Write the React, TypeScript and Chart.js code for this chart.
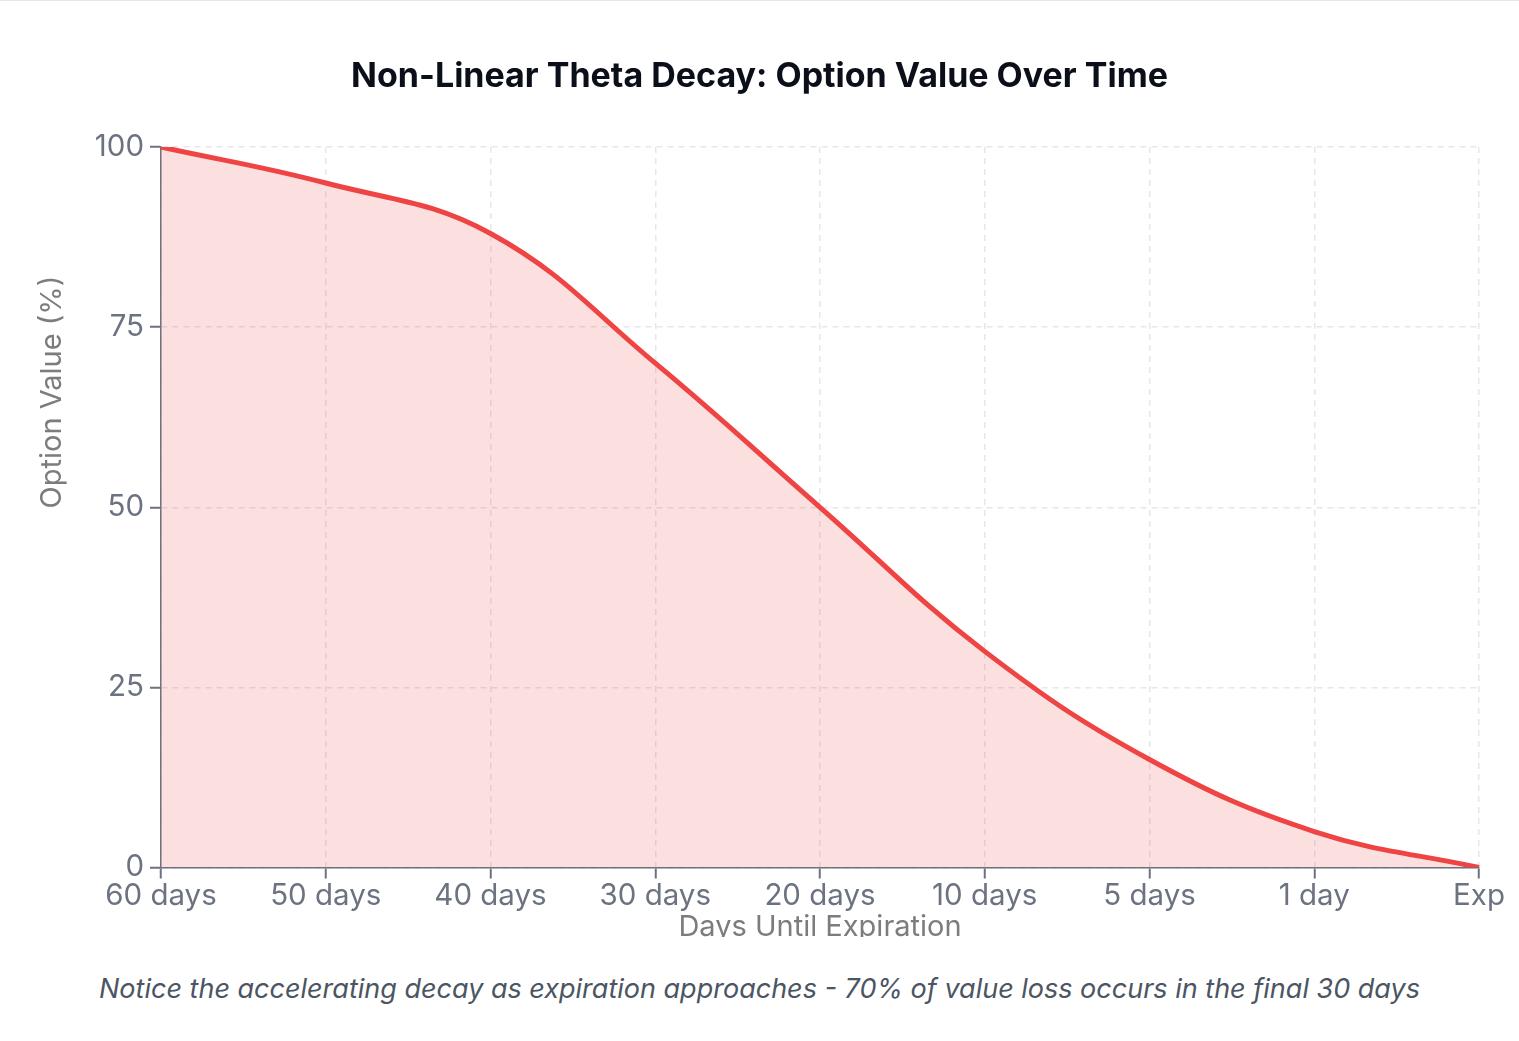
import { useEffect, useRef } from 'react'
import { Chart, registerables } from 'chart.js'
import type { Plugin } from 'chart.js'

Chart.register(...registerables)

// data
const dayLabels = ['60 days', '50 days', '40 days', '30 days', '20 days', '10 days', '5 days', '1 day', 'Exp']
const optionValue = [100, 95, 88, 70, 50, 30, 15, 5, 0]
const yTicks = [0, 25, 50, 75, 100]

const FONT = 'Inter, "Noto Sans", sans-serif'
const TICK_GREY = '#6b7280'
const TITLE_GREY = '#7c7c7c'

// y title sits above the middle of the axis in the reference, so it is drawn here
const yTitle: Plugin<'line'> = {
  id: 'yTitle',
  afterDraw(chart) {
    const { ctx, chartArea } = chart
    const y = chart.scales.y
    const cy = chartArea.top + (chartArea.bottom - chartArea.top) * 0.34
    ctx.save()
    ctx.translate(y.left + 12, cy)
    ctx.rotate(-Math.PI / 2)
    ctx.font = `29px ${FONT}`
    ctx.fillStyle = TITLE_GREY
    ctx.textAlign = 'center'
    ctx.textBaseline = 'middle'
    ctx.fillText('Option Value (%)', 0, 0)
    ctx.restore()
  },
}

function ThetaChart() {
  const ref = useRef<HTMLCanvasElement>(null)
  useEffect(() => {
    if (!ref.current) return
    const chart = new Chart(ref.current, {
      type: 'line',
      data: {
        labels: dayLabels,
        datasets: [
          {
            data: optionValue,
            borderColor: '#ef4444',
            backgroundColor: 'rgba(239,68,68,0.17)',
            borderWidth: 5,
            fill: 'origin',
            tension: 0.4,
            pointRadius: 0,
            pointHoverRadius: 0,
          },
        ],
      },
      options: {
        animation: false,
        responsive: true,
        maintainAspectRatio: false,
        layout: { padding: { left: 40, right: 40, top: 0, bottom: 0 } },
        plugins: {
          legend: { display: false },
          tooltip: { enabled: false },
          title: {
            display: true,
            text: 'Non-Linear Theta Decay: Option Value Over Time',
            color: '#0b0f19',
            font: { family: FONT, size: 34, weight: 'bold' },
            padding: { top: 55.6, bottom: 49.6 },
          },
        },
        scales: {
          x: {
            offset: false,
            grid: { color: '#e5e7eb', lineWidth: 1.5, tickColor: TICK_GREY, tickWidth: 2, tickLength: 11 },
            border: { color: TICK_GREY, width: 1.5, dash: [6, 5] },
            ticks: {
              color: TICK_GREY,
              font: { family: FONT, size: 29.5, lineHeight: 1.1 },
              padding: 1,
              maxRotation: 0,
              autoSkip: false,
            },
            title: {
              display: true,
              text: 'Days Until Expiration',
              color: TITLE_GREY,
              font: { family: FONT, size: 29, lineHeight: 1 },
              padding: { top: 0, bottom: 4 },
            },
          },
          y: {
            min: 0,
            max: 100,
            afterBuildTicks: (s) => { s.ticks = yTicks.map((v) => ({ value: v })) },
            afterFit: (s) => { s.width = 121 },
            grid: { color: '#e5e7eb', lineWidth: 1.5, tickColor: TICK_GREY, tickWidth: 2, tickLength: 11 },
            border: { color: TICK_GREY, width: 1.5, dash: [6, 5] },
            ticks: { color: TICK_GREY, font: { family: FONT, size: 29.5 }, padding: 6 },
          },
        },
      },
      plugins: [yTitle],
    })
    return () => chart.destroy()
  }, [])
  return <canvas ref={ref} />
}

export default function App() {
  useEffect(() => {
    document.body.style.margin = '0'
  }, [])
  return (
    <div style={{ borderTop: '1px solid #e5e7eb', fontFamily: FONT, background: '#fff' }}>
      <div style={{ height: 936, overflow: 'hidden' }}>
        <div style={{ position: 'relative', height: 945, width: '100%' }}>
          <ThetaChart />
        </div>
      </div>
      <p
        style={{
          margin: '35px 0 0',
          textAlign: 'center',
          fontStyle: 'italic',
          fontSize: 27,
          color: '#4b5563',
        }}
      >
        Notice the accelerating decay as expiration approaches - 70% of value loss occurs in the final 30 days
      </p>
    </div>
  )
}
